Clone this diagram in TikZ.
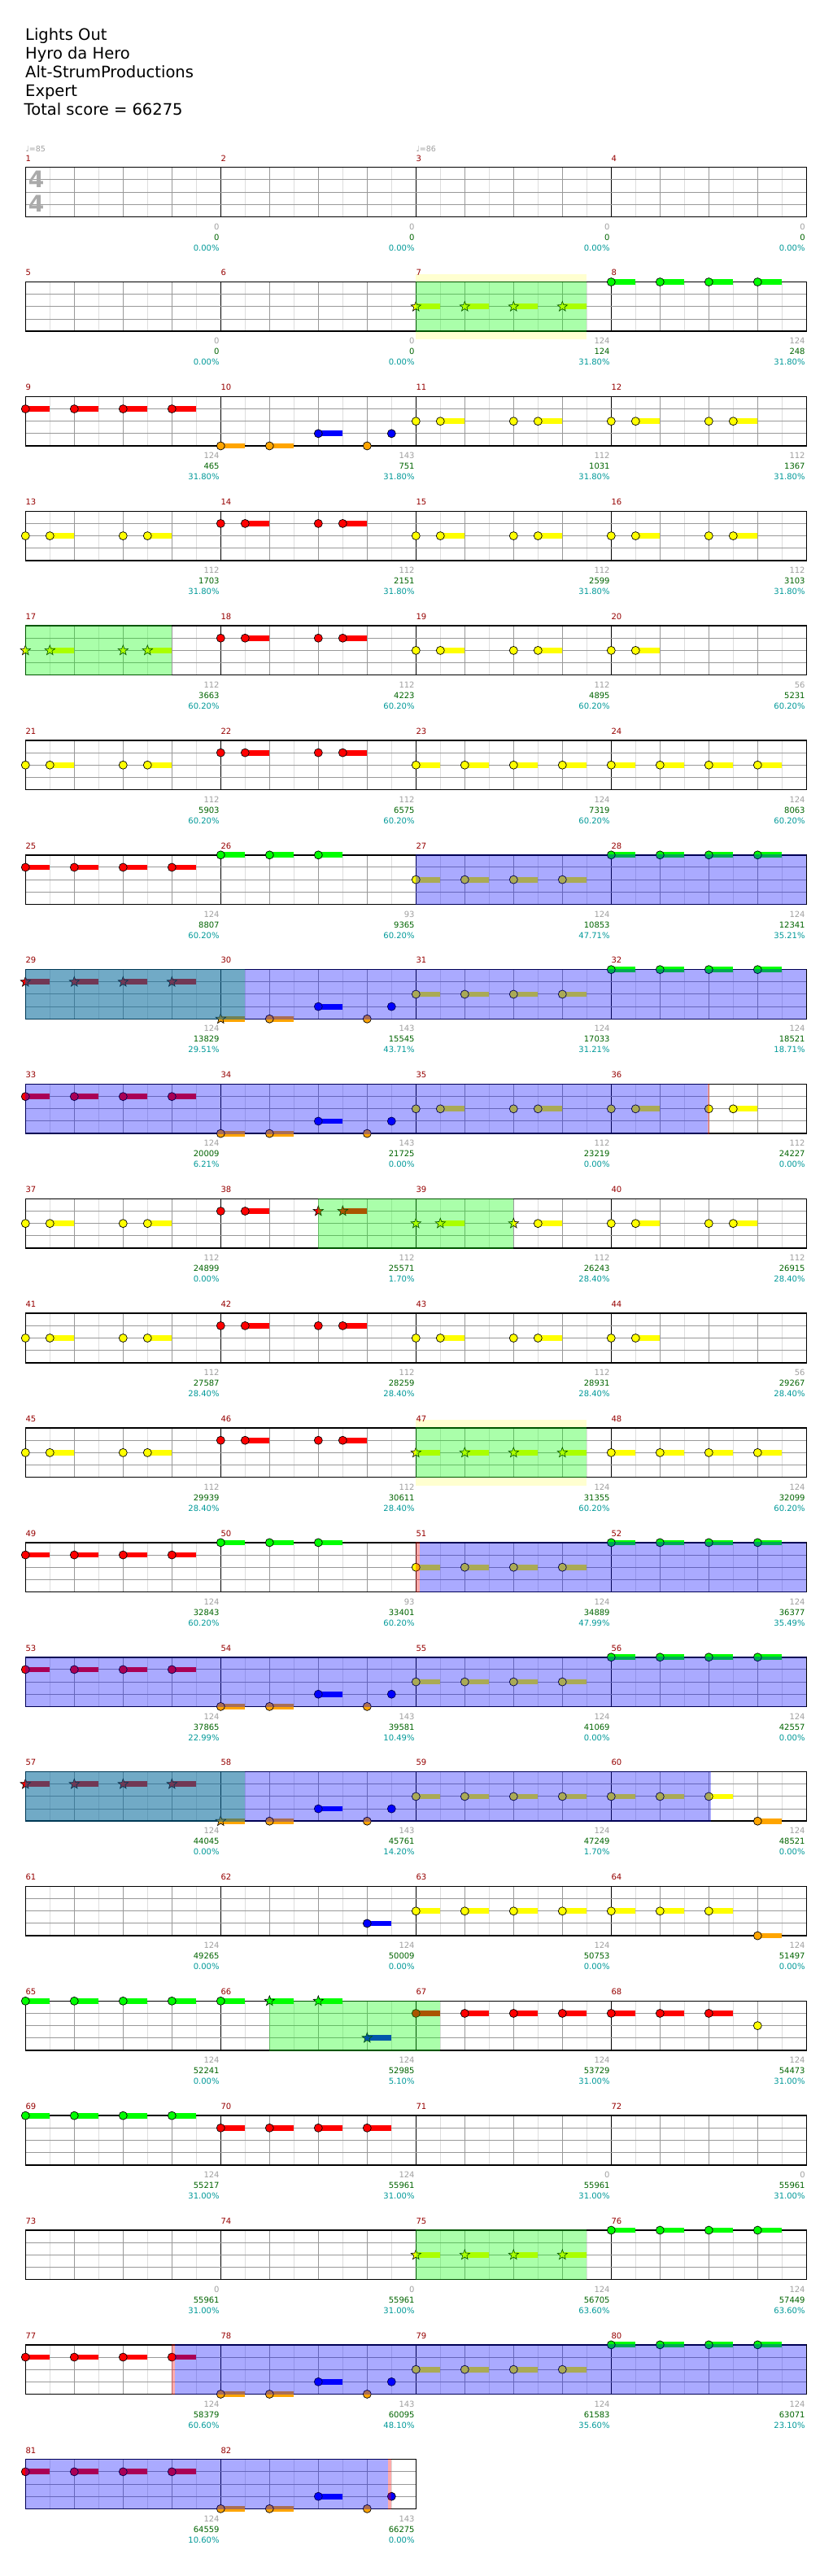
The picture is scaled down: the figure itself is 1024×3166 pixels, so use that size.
\documentclass[tikz,border=0pt]{standalone}
\usepackage{fontspec}
\setmainfont{DejaVu Sans}
\usetikzlibrary{shapes.geometric}
\definecolor{nc0}{RGB}{0,255,0}
\definecolor{nc1}{RGB}{255,0,0}
\definecolor{nc2}{RGB}{255,255,0}
\definecolor{nc3}{RGB}{0,0,255}
\definecolor{nc4}{RGB}{255,165,0}
\definecolor{lgray}{RGB}{160,160,160}
\definecolor{sgreen}{RGB}{0,100,0}
\definecolor{steal}{RGB}{0,153,153}
\definecolor{mred}{RGB}{150,0,0}
\definecolor{gridd}{RGB}{153,153,153}
\definecolor{gridl}{RGB}{221,221,221}
\definecolor{halo}{RGB}{255,255,208}
\definecolor{tsig}{RGB}{170,170,170}
\tikzset{
 gridh/.style={gridl, line width=1pt},
 gridb/.style={gridd, line width=1pt},
 barl/.style={black, line width=1.2pt},
 brd/.style={black, line width=1.5pt},
 lab/.style={inner sep=0pt, font=\fontsize{10}{12}\selectfont},
 notec/.style={draw=black, line width=0.7pt},
 starn/.style={star, star points=5, star point ratio=2.4, minimum size=13pt, inner sep=0pt, draw=black, line width=0.6pt},
 ttl/.style={inner sep=0pt, anchor=base west, font=\fontsize{19.5}{23}\selectfont},
}
\newcommand\Staff[2]{%
 \pgfmathsetmacro\Ty{205.7+140.85*#1}%
 \pgfmathsetmacro\Rx{31.3+240*#2}%
 \fill[white] (31.3,\Ty) rectangle (\Rx,\Ty+60.6);
 \foreach \c in {1,...,#2}{%
   \pgfmathsetmacro\xz{31.3+240*(\c-1)}%
   \foreach \h in {30,90,150,210} {\draw[gridh] (\xz+\h,\Ty) -- ++(0,60.6);}
   \foreach \h in {60,120,180} {\draw[gridb] (\xz+\h,\Ty) -- ++(0,60.6);}
   \ifnum\c>1 \draw[barl] (\xz,\Ty) -- ++(0,60.6);\fi
 }
 \foreach \v in {15.15,30.3,45.45} {\draw[gridb] (31.3,\Ty+\v) -- (\Rx,\Ty+\v);}
 \draw[brd] (31.3,\Ty) rectangle (\Rx,\Ty+60.6);
}
\newcommand\Meas[4]{%
 \pgfmathtruncatemacro\rr{(#1-1)/4}%
 \pgfmathtruncatemacro\cc{#1-1-4*\rr}%
 \pgfmathsetmacro\xz{31.3+240*\cc}%
 \pgfmathsetmacro\Ty{205.7+140.85*\rr}%
 \node[lab, text=mred, anchor=base west] (n#1) at (\xz,\Ty-7.7) {#1};
 \node[lab, text=lgray, anchor=base east] (g#1) at (\xz+238.5,\Ty+76.3) {#2};
 \node[lab, text=sgreen, anchor=base east] (s#1) at (\xz+238.5,\Ty+89.3) {#3};
 \node[lab, text=steal, anchor=base east] (p#1) at (\xz+238.5,\Ty+102.3) {#4};
}
\newcommand\Nt[2]{%
 \pgfmathtruncatemacro\rr{(#1-1)/4}%
 \pgfmathtruncatemacro\cc{#1-1-4*\rr}%
 \pgfmathsetmacro\xz{31.3+240*\cc}%
 \pgfmathsetmacro\Ty{205.7+140.85*\rr}%
 \foreach \La/\Po/\Su/\Tp [count=\k] in {#2}{%
   \pgfmathsetmacro\nx{\xz+30*\Po}%
   \pgfmathsetmacro\ny{\Ty+15.15*\La}%
   \ifnum\Su>0 \fill[fill=nc\La] (\nx,\ny-3.4) rectangle (\nx+30*\Su,\ny+3.4);\fi
   \ifnum\Tp=1 \node[starn, fill=nc\La] (st#1-\k) at (\nx,\ny) {};%
   \else \filldraw[notec, fill=nc\La] (\nx,\ny) circle[radius=5pt];\fi
 }%
}
\newcommand\YP[1]{\Nt{#1}{2/0/0/0,2/1/1/0,2/4/0/0,2/5/1/0}}
\newcommand\RP[1]{\Nt{#1}{1/0/0/0,1/1/1/0,1/4/0/0,1/5/1/0}}
\newcommand\YE[1]{\Nt{#1}{2/0/1/0,2/2/1/0,2/4/1/0,2/6/1/0}}
\newcommand\RE[1]{\Nt{#1}{1/0/1/0,1/2/1/0,1/4/1/0,1/6/1/0}}
\newcommand\GE[1]{\Nt{#1}{0/0/1/0,0/2/1/0,0/4/1/0,0/6/1/0}}
\newcommand\GT[1]{\Nt{#1}{0/0/1/0,0/2/1/0,0/4/1/0}}
\newcommand\OB[1]{\Nt{#1}{4/0/1/0,4/2/1/0,3/4/1/0,4/6/0/0,3/7/0/0}}
\newcommand\Ov[4]{\pgfmathsetmacro\Ty{205.7+140.85*#2}\fill[#1, fill opacity=0.3333] (#3,\Ty-0.75) rectangle (#4,\Ty+61.35);}
\newcommand\Halo[3]{\pgfmathsetmacro\Ty{205.7+140.85*#1}\fill[halo] (#2,\Ty-10) rectangle (#3,\Ty+70.6);}
\begin{document}
\begin{tikzpicture}[x=1pt,y=-1pt]
\useasboundingbox (0,0) rectangle (1024,3166);
\fill[white] (0,0) rectangle (1024,3166);
% titles
\node[ttl] (t1) at (31,49.3) {Lights Out};
\node[ttl] (t2) at (31,72.3) {Hyro da Hero};
\node[ttl] (t3) at (31,95.3) {Alt-StrumProductions};
\node[ttl] (t4) at (31,118.3) {Expert};
\node[ttl] (t5) at (29.5,141.3) {Total score = 66275};
% halos
\Halo{1}{511.3}{721.3}
\Halo{11}{511.3}{721.3}
% staffs
\foreach \r in {0,...,19} {\Staff{\r}{4}}
\Staff{20}{2}
% time signature and tempo
\node[inner sep=0pt, text=tsig, font=\bfseries\fontsize{28}{28}\selectfont] (ts1) at (44.5,220) {4};
\node[inner sep=0pt, text=tsig, font=\bfseries\fontsize{28}{28}\selectfont] (ts2) at (44.5,250.5) {4};
\node[lab, text=lgray, anchor=base west, font=\fontsize{9.5}{10}\selectfont] (tp1) at (31.3,186.7) {♩=85};
\node[lab, text=lgray, anchor=base west, font=\fontsize{9.5}{10}\selectfont] (tp3) at (511.3,186.7) {♩=86};
% notes
\Nt{7}{2/0/1/1,2/2/1/1,2/4/1/1,2/6/1/1}
\GE{8} \RE{9} \OB{10} \YP{11} \YP{12}
\YP{13} \RP{14} \YP{15} \YP{16}
\Nt{17}{2/0/0/1,2/1/1/1,2/4/0/1,2/5/1/1} \RP{18} \YP{19} \Nt{20}{2/0/0/0,2/1/1/0}
\YP{21} \RP{22} \YE{23} \YE{24}
\RE{25} \GT{26} \YE{27} \GE{28}
\Nt{29}{1/0/1/1,1/2/1/1,1/4/1/1,1/6/1/1} \Nt{30}{4/0/1/1,4/2/1/0,3/4/1/0,4/6/0/0,3/7/0/0} \YE{31} \GE{32}
\RE{33} \OB{34} \YP{35} \YP{36}
\YP{37} \Nt{38}{1/0/0/0,1/1/1/0,1/4/0/1,1/5/1/1} \Nt{39}{2/0/0/1,2/1/1/1,2/4/0/1,2/5/1/0} \YP{40}
\YP{41} \RP{42} \YP{43} \Nt{44}{2/0/0/0,2/1/1/0}
\YP{45} \RP{46} \Nt{47}{2/0/1/1,2/2/1/1,2/4/1/1,2/6/1/1} \YE{48}
\RE{49} \GT{50} \YE{51} \GE{52}
\RE{53} \OB{54} \YE{55} \GE{56}
\Nt{57}{1/0/1/1,1/2/1/1,1/4/1/1,1/6/1/1} \Nt{58}{4/0/1/1,4/2/1/0,3/4/1/0,4/6/0/0,3/7/0/0} \YE{59} \Nt{60}{2/0/1/0,2/2/1/0,2/4/1/0,4/6/1/0}
\Nt{62}{3/6/1/0} \YE{63} \Nt{64}{2/0/1/0,2/2/1/0,2/4/1/0,4/6/1/0}
\GE{65} \Nt{66}{0/0/1/0,0/2/1/1,0/4/1/1,3/6/1/1} \RE{67} \Nt{68}{1/0/1/0,1/2/1/0,1/4/1/0,2/6/0/0}
\GE{69} \RE{70}
\Nt{75}{2/0/1/1,2/2/1/1,2/4/1/1,2/6/1/1} \GE{76}
\RE{77} \OB{78} \YE{79} \GE{80}
\RE{81} \OB{82}
% star power phrases
\Ov{nc0}{1}{511.3}{721.3}
\Ov{nc0}{4}{31.3}{211.3}
\Ov{nc0}{7}{31.3}{301.3}
\Ov{nc0}{9}{391.3}{631.3}
\Ov{nc0}{11}{511.3}{721.3}
\Ov{nc0}{14}{31.3}{301.3}
\Ov{nc0}{16}{331.3}{541.3}
\Ov{nc0}{18}{511.3}{721.3}
% overdrive
\Ov{nc3}{6}{511.3}{991.3}
\Ov{nc3}{7}{31.3}{991.3}
\Ov{nc3}{8}{31.3}{870}
\Ov{nc3}{12}{516}{991.3}
\Ov{nc3}{13}{31.3}{991.3}
\Ov{nc3}{14}{31.3}{874}
\Ov{nc3}{19}{215}{991.3}
\Ov{nc3}{20}{31.3}{477}
% activation marks
\Ov{nc1}{12}{511.3}{516}
\Ov{nc1}{8}{870}{872}
\Ov{nc1}{19}{211.3}{215}
\Ov{nc1}{20}{477}{481}
% labels
\Meas{1}{0}{0}{0.00\%} \Meas{2}{0}{0}{0.00\%} \Meas{3}{0}{0}{0.00\%} \Meas{4}{0}{0}{0.00\%}
\Meas{5}{0}{0}{0.00\%} \Meas{6}{0}{0}{0.00\%} \Meas{7}{124}{124}{31.80\%} \Meas{8}{124}{248}{31.80\%}
\Meas{9}{124}{465}{31.80\%} \Meas{10}{143}{751}{31.80\%} \Meas{11}{112}{1031}{31.80\%} \Meas{12}{112}{1367}{31.80\%}
\Meas{13}{112}{1703}{31.80\%} \Meas{14}{112}{2151}{31.80\%} \Meas{15}{112}{2599}{31.80\%} \Meas{16}{112}{3103}{31.80\%}
\Meas{17}{112}{3663}{60.20\%} \Meas{18}{112}{4223}{60.20\%} \Meas{19}{112}{4895}{60.20\%} \Meas{20}{56}{5231}{60.20\%}
\Meas{21}{112}{5903}{60.20\%} \Meas{22}{112}{6575}{60.20\%} \Meas{23}{124}{7319}{60.20\%} \Meas{24}{124}{8063}{60.20\%}
\Meas{25}{124}{8807}{60.20\%} \Meas{26}{93}{9365}{60.20\%} \Meas{27}{124}{10853}{47.71\%} \Meas{28}{124}{12341}{35.21\%}
\Meas{29}{124}{13829}{29.51\%} \Meas{30}{143}{15545}{43.71\%} \Meas{31}{124}{17033}{31.21\%} \Meas{32}{124}{18521}{18.71\%}
\Meas{33}{124}{20009}{6.21\%} \Meas{34}{143}{21725}{0.00\%} \Meas{35}{112}{23219}{0.00\%} \Meas{36}{112}{24227}{0.00\%}
\Meas{37}{112}{24899}{0.00\%} \Meas{38}{112}{25571}{1.70\%} \Meas{39}{112}{26243}{28.40\%} \Meas{40}{112}{26915}{28.40\%}
\Meas{41}{112}{27587}{28.40\%} \Meas{42}{112}{28259}{28.40\%} \Meas{43}{112}{28931}{28.40\%} \Meas{44}{56}{29267}{28.40\%}
\Meas{45}{112}{29939}{28.40\%} \Meas{46}{112}{30611}{28.40\%} \Meas{47}{124}{31355}{60.20\%} \Meas{48}{124}{32099}{60.20\%}
\Meas{49}{124}{32843}{60.20\%} \Meas{50}{93}{33401}{60.20\%} \Meas{51}{124}{34889}{47.99\%} \Meas{52}{124}{36377}{35.49\%}
\Meas{53}{124}{37865}{22.99\%} \Meas{54}{143}{39581}{10.49\%} \Meas{55}{124}{41069}{0.00\%} \Meas{56}{124}{42557}{0.00\%}
\Meas{57}{124}{44045}{0.00\%} \Meas{58}{143}{45761}{14.20\%} \Meas{59}{124}{47249}{1.70\%} \Meas{60}{124}{48521}{0.00\%}
\Meas{61}{124}{49265}{0.00\%} \Meas{62}{124}{50009}{0.00\%} \Meas{63}{124}{50753}{0.00\%} \Meas{64}{124}{51497}{0.00\%}
\Meas{65}{124}{52241}{0.00\%} \Meas{66}{124}{52985}{5.10\%} \Meas{67}{124}{53729}{31.00\%} \Meas{68}{124}{54473}{31.00\%}
\Meas{69}{124}{55217}{31.00\%} \Meas{70}{124}{55961}{31.00\%} \Meas{71}{0}{55961}{31.00\%} \Meas{72}{0}{55961}{31.00\%}
\Meas{73}{0}{55961}{31.00\%} \Meas{74}{0}{55961}{31.00\%} \Meas{75}{124}{56705}{63.60\%} \Meas{76}{124}{57449}{63.60\%}
\Meas{77}{124}{58379}{60.60\%} \Meas{78}{143}{60095}{48.10\%} \Meas{79}{124}{61583}{35.60\%} \Meas{80}{124}{63071}{23.10\%}
\Meas{81}{124}{64559}{10.60\%} \Meas{82}{143}{66275}{0.00\%}
\end{tikzpicture}
\end{document}
